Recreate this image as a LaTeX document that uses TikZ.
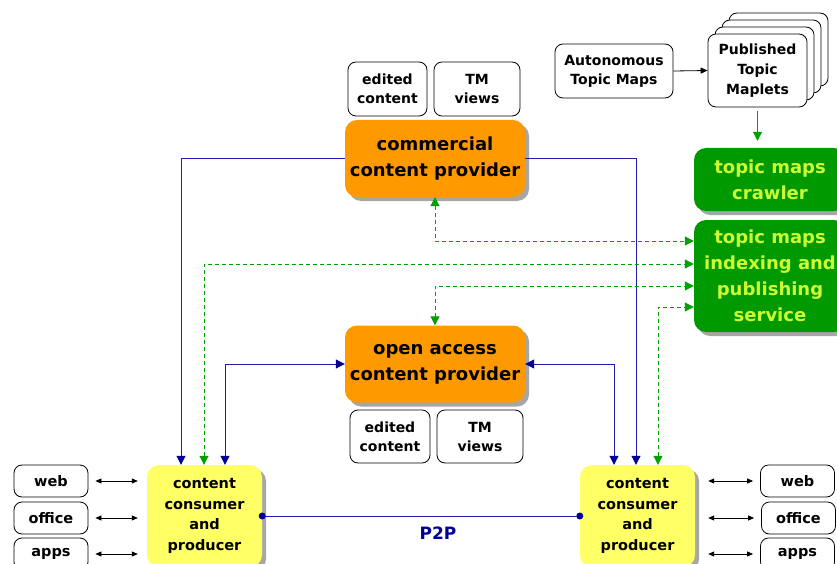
\documentclass[tikz,border=0pt]{standalone}
\usepackage{fontspec}
\setmainfont{DejaVu Sans}
\usetikzlibrary{arrows.meta,shadows,calc}
\definecolor{provorange}{RGB}{255,153,0}
\definecolor{consyellow}{RGB}{255,255,102}
\definecolor{svcgreen}{RGB}{0,153,0}
\definecolor{svctext}{RGB}{204,255,51}
\definecolor{linkblue}{RGB}{30,30,170}
\definecolor{headblue}{RGB}{0,0,150}
\definecolor{dashgreen}{RGB}{0,160,0}
\begin{document}
\begin{tikzpicture}[x=1pt,y=-1pt,
  shade/.style={drop shadow={shadow xshift=4pt,shadow yshift=-4pt,fill=black!35,opacity=1}},
  tag/.style={draw=black,line width=0.8pt,rounded corners=8pt,fill=white,align=center,
    inner sep=0pt,font=\fontsize{14}{19}\selectfont\bfseries},
  provider/.style={fill=provorange,rounded corners=12pt,shade,align=center,inner sep=0pt,
    minimum width=180pt,minimum height=77pt,font=\fontsize{18}{26}\selectfont\bfseries},
  service/.style={fill=svcgreen,rounded corners=12pt,shade,align=center,inner sep=0pt,
    text=svctext,minimum width=152pt,font=\fontsize{18}{26}\selectfont\bfseries},
  consumer/.style={fill=consyellow,rounded corners=12pt,shade,align=center,inner sep=0pt,
    minimum width=115pt,minimum height=102pt,font=\fontsize{14.5}{20.5}\selectfont\bfseries},
  appbox/.style={tag,minimum width=74pt,minimum height=32pt,font=\fontsize{14.5}{19}\selectfont\bfseries},
  bluelink/.style={draw=linkblue,line width=1pt,-{Triangle[length=9pt,width=9pt,color=headblue]}},
  bluebi/.style={draw=linkblue,line width=1pt,{Triangle[length=9pt,width=9pt,color=headblue]}-{Triangle[length=9pt,width=9pt,color=headblue]}},
  greenbi/.style={draw=dashgreen,line width=1pt,dash pattern=on 4pt off 3pt,
    {Triangle[length=9pt,width=9pt]}-{Triangle[length=9pt,width=9pt]}},
  appbi/.style={draw=black,line width=0.8pt,{Triangle[length=6pt,width=5pt]}-{Triangle[length=6pt,width=5pt]}},
]
\useasboundingbox (0,0) rectangle (837,564);
\clip (0,0) rectangle (837,564);

% providers and their content tags
\node[tag,minimum width=79pt,minimum height=54pt] (ec1) at (387.5,89) {edited\\content};
\node[tag,minimum width=86pt,minimum height=54pt] (tv1) at (477,89) {TM\\views};
\node[provider] (comm) at (435,158.5) {commercial\\content provider};

\node[provider] (open) at (435,364) {open access\\content provider};
\node[tag,minimum width=80pt,minimum height=53pt] (ec2) at (390,436.5) {edited\\content};
\node[tag,minimum width=86pt,minimum height=53pt] (tv2) at (480,436.5) {TM\\views};

% topic map sources
\node[tag,minimum width=118pt,minimum height=54pt] (auto) at (614,71) {Autonomous\\Topic Maps};
\node[tag,minimum width=99pt,minimum height=73pt] (mapC) at (778.5,49.5) {};
\node[tag,minimum width=99pt,minimum height=73pt] (mapB) at (771.5,56.5) {};
\node[tag,minimum width=99pt,minimum height=73pt] (mapA) at (764.5,63.5) {};
\node[tag,minimum width=99pt,minimum height=73pt,font=\fontsize{14}{20}\selectfont\bfseries] (maps) at (757.5,70.5) {Published\\Topic\\Maplets};

% services
\node[service,minimum height=63pt] (crawl) at (770,179.5) {topic maps\\crawler};
\node[service,minimum height=112pt] (idx) at (770,276) {topic maps\\indexing and\\publishing\\service};

% consumers
\node[consumer] (consL) at (204.5,516) {content\\consumer\\and\\producer};
\node[consumer] (consR) at (637.5,516) {content\\consumer\\and\\producer};

% applications
\node[appbox] (webL) at (51,481) {web};
\node[appbox] (offL) at (51,518) {office};
\node[appbox] (appL) at (51,554) {apps};
\node[appbox] (webR) at (797.5,481) {web};
\node[appbox] (offR) at (798.5,518) {office};
\node[appbox] (appR) at (797.5,554) {apps};

\foreach \a in {webL,offL,appL}
  \draw[appbi,shorten <=7pt,shorten >=9pt] (\a.east) -- (\a.east -| consL.west);
\foreach \a in {webR,offR,appR}
  \draw[appbi,shorten <=13pt,shorten >=7pt] (\a.west -| consR.east) -- (\a.west);

% source feeds
\draw[draw=black,line width=0.8pt,-{Triangle[length=7pt,width=6pt]}] (auto.east) -- (maps.west);
\draw[draw=dashgreen,line width=1pt,-{Triangle[length=9pt,width=9pt]},shorten <=4pt,shorten >=7pt] (maps.south) -- (maps.south |- crawl.north);

% delivery links
\draw[bluelink] (comm.west) -| ($(consL.north)+(-23.5,0)$);
\draw[bluelink] (comm.east) -| ($(consR.north)+(-1.5,0)$);
\draw[bluebi] (open.west) -| ($(consL.north)+(20.5,0)$);
\draw[bluebi] (open.east) -| ($(consR.north)+(-23.5,0)$);

% indexing links
\draw[greenbi] (comm.south) |- ($(idx.west)+(0,-35)$);
\draw[greenbi] ($(consL.north)+(-0.5,0)$) |- ($(idx.west)+(0,-12)$);
\draw[greenbi] (open.north) |- ($(idx.west)+(0,10)$);
\draw[greenbi] ($(consR.north)+(20.5,0)$) |- ($(idx.west)+(0,31)$);

% peer to peer
\draw[draw=linkblue,line width=1pt] (consL.east) -- (consR.west);
\fill[headblue] (consL.east) circle (3.5pt);
\fill[headblue] (consR.west) circle (3.5pt);
\node[text=headblue,font=\fontsize{17}{20}\selectfont\bfseries] (p2p) at (438,533) {P2P};
\end{tikzpicture}
\end{document}
